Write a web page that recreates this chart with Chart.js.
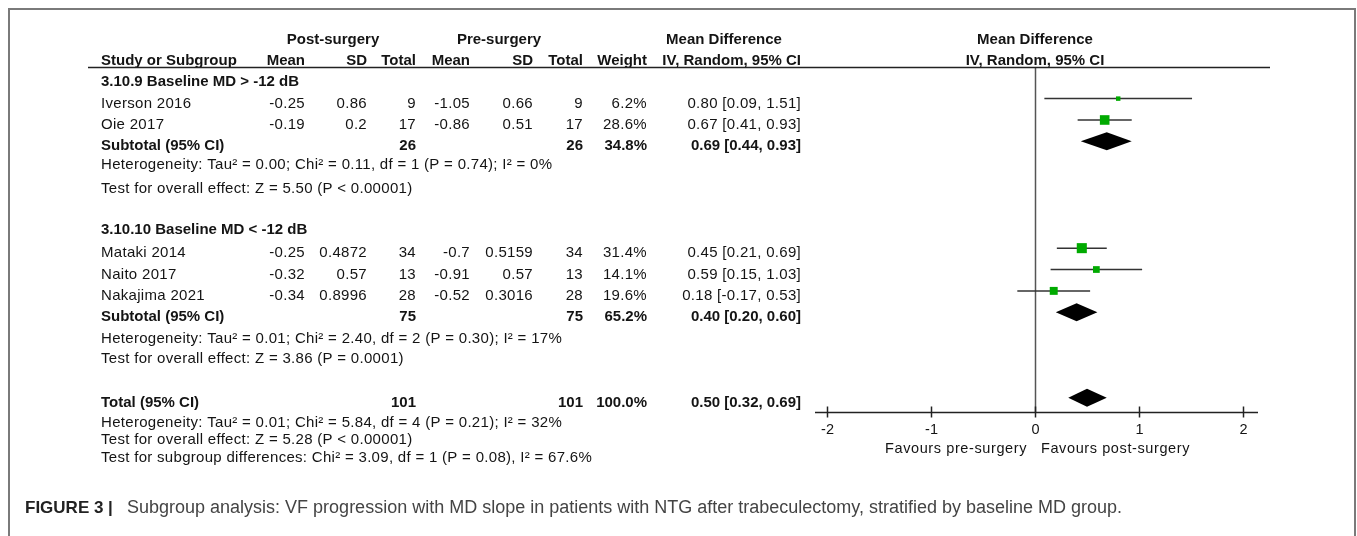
<!DOCTYPE html>
<html><head><meta charset="utf-8">
<script src="https://cdn.jsdelivr.net/npm/chart.js@4.4.1/dist/chart.umd.min.js"></script>
<style>html,body{margin:0;padding:0;background:#fff;}canvas{display:block;}</style>
</head><body>
<canvas id="c" width="1357" height="536"></canvas>
<script>
// ---------- data ----------
const studies   = ['Iverson 2016', 'Oie 2017', 'Mataki 2014', 'Naito 2017', 'Nakajima 2021'];
const studyRow  = [1, 2, 8, 9, 10];
const postMean  = [-0.25, -0.19, -0.25, -0.32, -0.34];
const postSD    = [0.86, 0.2, 0.4872, 0.57, 0.8996];
const postN     = [9, 17, 34, 13, 28];
const preMean   = [-1.05, -0.86, -0.7, -0.91, -0.52];
const preSD     = [0.66, 0.51, 0.5159, 0.57, 0.3016];
const preN      = [9, 17, 34, 13, 28];
const weight    = [6.2, 28.6, 31.4, 14.1, 19.6];
const md        = [0.80, 0.67, 0.45, 0.59, 0.18];
const mdLo      = [0.09, 0.41, 0.21, 0.15, -0.17];
const mdHi      = [1.51, 0.93, 0.69, 1.03, 0.53];

const groupNames = ['3.10.9 Baseline MD > -12 dB', '3.10.10 Baseline MD < -12 dB'];
const groupHeadRow = [0, 6.93];
const subRow    = [3, 11];
const subN      = [26, 75];
const subWeight = [34.8, 65.2];
const subMD     = [0.69, 0.40];
const subLo     = [0.44, 0.20];
const subHi     = [0.93, 0.60];
const hetText   = ['Heterogeneity: Tau\u00b2 = 0.00; Chi\u00b2 = 0.11, df = 1 (P = 0.74); I\u00b2 = 0%',
                   'Heterogeneity: Tau\u00b2 = 0.01; Chi\u00b2 = 2.40, df = 2 (P = 0.30); I\u00b2 = 17%'];
const hetRow    = [3.88, 11.99];
const testText  = ['Test for overall effect: Z = 5.50 (P < 0.00001)',
                   'Test for overall effect: Z = 3.86 (P = 0.0001)'];
const testRow   = [4.97, 12.95];

const totalRow = 15, totalN = 101, totalWeight = 100.0, totalMD = 0.50, totalLo = 0.32, totalHi = 0.69;
const footText = ['Heterogeneity: Tau\u00b2 = 0.01; Chi\u00b2 = 5.84, df = 4 (P = 0.21); I\u00b2 = 32%',
                  'Test for overall effect: Z = 5.28 (P < 0.00001)',
                  'Test for subgroup differences: Chi\u00b2 = 3.09, df = 1 (P = 0.08), I\u00b2 = 67.6%'];
const footRow  = [15.95, 16.75, 17.56];

const xTicks = [-2, -1, 0, 1, 2];
const favoursLeft = 'Favours pre-surgery';
const favoursRight = 'Favours post-surgery';
const captionBold = 'FIGURE 3 |';
const captionText = 'Subgroup analysis: VF progression with MD slope in patients with NTG after trabeculectomy, stratified by baseline MD group.';

// ---------- style ----------
const FONT = '"Liberation Sans", Arial, sans-serif';
const FS = 15;
const TXT = '#141414';
const GREEN = '#00aa00';
const colX = {name: 101, pm: 305, psd: 367, pn: 416, qm: 470, qsd: 533, qn: 583, w: 647, ci: 801};

function ciStr(m, l, h) { return m.toFixed(2) + ' [' + l.toFixed(2) + ', ' + h.toFixed(2) + ']'; }

const forestPlugin = {
  id: 'forest',
  beforeDatasetsDraw(chart) {
    const {ctx, chartArea: ca, scales: {x, y}} = chart;
    ctx.save();
    const x0 = Math.round(x.getPixelForValue(0)) + 0.5;
    ctx.strokeStyle = '#555'; ctx.lineWidth = 1.5;
    ctx.beginPath(); ctx.moveTo(x0, ca.top); ctx.lineTo(x0, ca.bottom); ctx.stroke();
    ctx.strokeStyle = '#333'; ctx.lineWidth = 1.5;
    for (let i = 0; i < studies.length; i++) {
      const yy = y.getPixelForValue(studyRow[i]);
      ctx.beginPath(); ctx.moveTo(x.getPixelForValue(mdLo[i]), yy); ctx.lineTo(x.getPixelForValue(mdHi[i]), yy); ctx.stroke();
    }
    const diamond = (m, l, h, row) => {
      const yy = y.getPixelForValue(row);
      ctx.beginPath();
      ctx.moveTo(x.getPixelForValue(l), yy);
      ctx.lineTo(x.getPixelForValue(m), yy - 9);
      ctx.lineTo(x.getPixelForValue(h), yy);
      ctx.lineTo(x.getPixelForValue(m), yy + 9);
      ctx.closePath();
      ctx.fillStyle = '#000'; ctx.fill();
    };
    for (let g = 0; g < subMD.length; g++) diamond(subMD[g], subLo[g], subHi[g], subRow[g]);
    diamond(totalMD, totalLo, totalHi, totalRow);
    ctx.restore();
  },
  afterDraw(chart) {
    const {ctx, chartArea: ca, scales: {x, y}} = chart;
    ctx.save();
    const ty = r => y.getPixelForValue(r) + 5;
    const text = (s, px, py, align, bold, size, color, spacing) => {
      ctx.font = (bold ? 'bold ' : '') + (size || FS) + 'px ' + FONT;
      ctx.letterSpacing = spacing !== undefined ? spacing : (bold ? '0px' : '0.3px');
      ctx.textAlign = align || 'left';
      ctx.textBaseline = 'middle';
      ctx.fillStyle = color || TXT;
      ctx.fillText(s, px, py);
    };
    // header
    text('Post-surgery', 333, 40, 'center', true);
    text('Pre-surgery', 499, 40, 'center', true);
    text('Mean Difference', 724, 40, 'center', true);
    const x0 = x.getPixelForValue(0);
    text('Mean Difference', x0, 40, 'center', true);
    text('IV, Random, 95% CI', x0, 61, 'center', true);
    text('Study or Subgroup', colX.name, 61, 'left', true);
    text('Mean', colX.pm, 61, 'right', true);
    text('SD', colX.psd, 61, 'right', true);
    text('Total', colX.pn, 61, 'right', true);
    text('Mean', colX.qm, 61, 'right', true);
    text('SD', colX.qsd, 61, 'right', true);
    text('Total', colX.qn, 61, 'right', true);
    text('Weight', colX.w, 61, 'right', true);
    text('IV, Random, 95% CI', colX.ci, 61, 'right', true);
    ctx.strokeStyle = '#222'; ctx.lineWidth = 1.5;
    ctx.beginPath(); ctx.moveTo(88, ca.top + 0.5); ctx.lineTo(1270, ca.top + 0.5); ctx.stroke();

    // groups
    for (let g = 0; g < groupNames.length; g++) {
      text(groupNames[g], colX.name, ty(groupHeadRow[g]), 'left', true);
      text('Subtotal (95% CI)', colX.name, ty(subRow[g]), 'left', true);
      text(String(subN[g]), colX.pn, ty(subRow[g]), 'right', true);
      text(String(subN[g]), colX.qn, ty(subRow[g]), 'right', true);
      text(subWeight[g].toFixed(1) + '%', colX.w, ty(subRow[g]), 'right', true);
      text(ciStr(subMD[g], subLo[g], subHi[g]), colX.ci, ty(subRow[g]), 'right', true);
      text(hetText[g], colX.name, ty(hetRow[g]), 'left');
      text(testText[g], colX.name, ty(testRow[g]), 'left');
    }
    for (let i = 0; i < studies.length; i++) {
      const yy = ty(studyRow[i]);
      text(studies[i], colX.name, yy);
      text(String(postMean[i]), colX.pm, yy, 'right');
      text(String(postSD[i]), colX.psd, yy, 'right');
      text(String(postN[i]), colX.pn, yy, 'right');
      text(String(preMean[i]), colX.qm, yy, 'right');
      text(String(preSD[i]), colX.qsd, yy, 'right');
      text(String(preN[i]), colX.qn, yy, 'right');
      text(weight[i].toFixed(1) + '%', colX.w, yy, 'right');
      text(ciStr(md[i], mdLo[i], mdHi[i]), colX.ci, yy, 'right');
    }
    // total
    text('Total (95% CI)', colX.name, ty(totalRow), 'left', true);
    text(String(totalN), colX.pn, ty(totalRow), 'right', true);
    text(String(totalN), colX.qn, ty(totalRow), 'right', true);
    text(totalWeight.toFixed(1) + '%', colX.w, ty(totalRow), 'right', true);
    text(ciStr(totalMD, totalLo, totalHi), colX.ci, ty(totalRow), 'right', true);
    for (let k = 0; k < footText.length; k++) text(footText[k], colX.name, ty(footRow[k]), 'left');

    // x axis
    const ab = ca.bottom + 0.5;
    ctx.strokeStyle = '#222'; ctx.lineWidth = 1.5;
    ctx.beginPath();
    ctx.moveTo(x.getPixelForValue(xTicks[0]) - 12, ab);
    ctx.lineTo(x.getPixelForValue(xTicks[xTicks.length - 1]) + 15, ab);
    ctx.stroke();
    for (const t of xTicks) {
      const px = Math.round(x.getPixelForValue(t)) + 0.5;
      ctx.beginPath(); ctx.moveTo(px, ab - 6); ctx.lineTo(px, ab + 5); ctx.stroke();
      text(String(t), px, ab + 17, 'center', false, 14.5, TXT, '0px');
    }
    text(favoursLeft, x0 - 8, ab + 36, 'right', false, 14.5, TXT, '0.6px');
    text(favoursRight, x0 + 6, ab + 36, 'left', false, 14.5, TXT, '0.6px');

    // caption
    text(captionBold, 25, 508, 'left', true, 17, '#222', '0px');
    text(captionText, 127, 508, 'left', false, 18, '#444', '0px');

    // frame
    ctx.strokeStyle = '#7a7a7a'; ctx.lineWidth = 2;
    ctx.beginPath();
    ctx.moveTo(9, 536); ctx.lineTo(9, 9); ctx.lineTo(1355, 9); ctx.lineTo(1355, 536);
    ctx.stroke();
    ctx.restore();
  }
};

new Chart(document.getElementById('c'), {
  type: 'scatter',
  data: {
    datasets: [{
      data: studies.map((s, i) => ({x: md[i], y: studyRow[i]})),
      pointStyle: 'rect',
      pointRadius: weight.map(w => 1.27 * Math.sqrt(w)),
      backgroundColor: GREEN,
      borderColor: GREEN,
      borderWidth: 0
    }]
  },
  options: {
    responsive: false,
    devicePixelRatio: 1,
    animation: false,
    events: [],
    layout: {padding: {left: 827, right: 114, top: 67, bottom: 124}},
    scales: {
      x: {type: 'linear', min: xTicks[0], max: xTicks[xTicks.length - 1], display: false},
      y: {type: 'linear', min: -0.48, max: 15.67, reverse: true, display: false}
    },
    plugins: {legend: {display: false}, tooltip: {enabled: false}, title: {display: false}}
  },
  plugins: [forestPlugin]
});
</script>
</body></html>
